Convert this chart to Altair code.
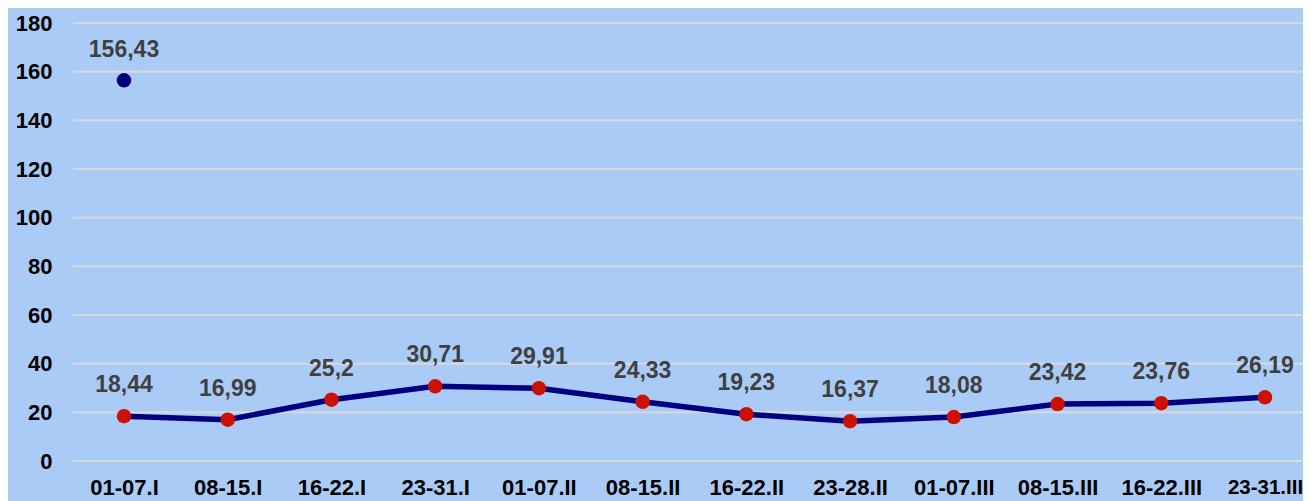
import altair as alt
import pandas as pd

categories = ["01-07.I", "08-15.I", "16-22.I", "23-31.I", "01-07.II", "08-15.II",
              "16-22.II", "23-28.II", "01-07.III", "08-15.III", "16-22.III", "23-31.III"]
values = [18.44, 16.99, 25.2, 30.71, 29.91, 24.33, 19.23, 16.37, 18.08, 23.42, 23.76, 26.19]
outlier_category = ["01-07.I"]
outlier_value = [156.43]
y_ticks = [0, 20, 40, 60, 80, 100, 120, 140, 160, 180]

def fmt(v):
    return str(v).replace(".", ",")

df = pd.DataFrame({"cat": categories, "val": values, "lab": [fmt(v) for v in values]})
df_out = pd.DataFrame({"cat": outlier_category, "val": outlier_value,
                       "lab": [fmt(v) for v in outlier_value]})
df_grid = pd.DataFrame({"val": y_ticks})

FONT = "Liberation Sans"
W, H = 1230, 438
last_cat = categories[-1]

x = alt.X("cat:N", sort=categories, scale=alt.Scale(type="point", range=[51, 1192], padding=0),
          axis=alt.Axis(title=None, labelAngle=0,
                        labelFontSize={"expr": f"datum.value == '{last_cat}' ? 20.5 : 22"},
                        labelFontWeight="bold",
                        labelColor="#000000", labelFont=FONT, labelPadding=16, ticks=False,
                        domain=False, grid=False, labelOverlap=False))
y_scale = alt.Scale(domain=[0, 180], nice=False, zero=True)
y = alt.Y("val:Q", scale=y_scale,
          axis=alt.Axis(title=None, values=y_ticks, labelFontSize=22, labelFontWeight="bold",
                        labelColor="#000000", labelFont=FONT, labelPadding=21, ticks=False,
                        domain=False, grid=False))

grid = alt.Chart(df_grid).mark_rule(color="#D9D9D9", strokeWidth=2).encode(
    y=y, x=alt.value(0), x2=alt.value(W))

base = alt.Chart(df)
line = base.mark_line(color="#000080", strokeWidth=5.5).encode(x=x, y=y)
pts = base.mark_circle(color="#CC1100", size=210, opacity=1).encode(x=x, y=y)
labels = base.mark_text(dy=-24, baseline="alphabetic", align="center", fontSize=23,
                        fontWeight="bold", font=FONT, color="#404040").encode(x=x, y=y, text="lab:N")

out_base = alt.Chart(df_out)
out_pt = out_base.mark_circle(color="#000080", size=210, opacity=1).encode(x=x, y=y)
out_lab = out_base.mark_text(dy=-23, baseline="alphabetic", align="center", fontSize=23,
                             fontWeight="bold", font=FONT, color="#404040").encode(x=x, y=y, text="lab:N")

chart = alt.layer(grid, line, pts, labels, out_pt, out_lab).properties(
    width=W, height=H, background="#ABCBF7",
    autosize=alt.AutoSizeParams(type="none"),
    padding={"left": 65, "top": 15, "right": 0, "bottom": 40},
).configure_view(stroke=None)

chart.save("out.html", embed_options={"renderer": "svg", "actions": False})
